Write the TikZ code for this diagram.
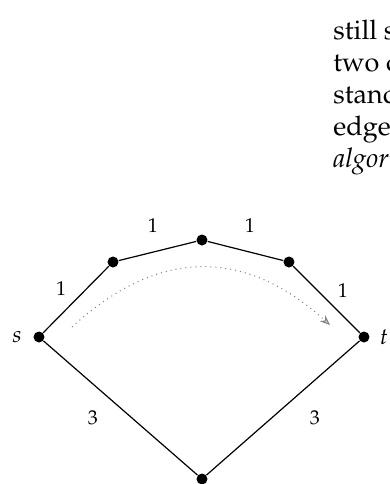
\documentclass[tikz,border=0pt]{standalone}
\usepackage[T1]{fontenc}
\usepackage{mathpazo}
\usetikzlibrary{arrows.meta,positioning}

\begin{document}
\begin{tikzpicture}[x=0.5pt, y=-0.5pt,
    vtx/.style={circle, fill=black, inner sep=0pt, minimum size=5.5pt},
    edge/.style={line width=0.6pt},
    wt/.style={font=\fontsize{10}{12}\selectfont, inner sep=1pt},
    term/.style={font=\fontsize{11.5}{13}\selectfont\itshape, inner sep=1pt},
    prose/.style={font=\fontsize{13.5}{16}\selectfont, anchor=base west, inner sep=0pt},
    path/.style={dotted, gray, line width=0.5pt, -{Stealth[length=5pt, width=4pt, fill=gray!40]}}
  ]
  \clip (0,0) rectangle (390,484);
  \fill[white] (0,0) rectangle (390,484);

  % running text of the page
  \node[prose] (l1) at (333,39)  {still s};
  \node[prose] (l2) at (333,71)  {two c};
  \node[prose] (l3) at (333,103) {stand};
  \node[prose] (l4) at (333,135) {edges};
  \node[prose, font=\fontsize{13.5}{16}\selectfont\itshape] (l5) at (333,167) {algori};

  % graph
  \node[vtx] (s)   at (39,337)  {};
  \node[vtx] (a)   at (113,262) {};
  \node[vtx] (m)   at (202,240) {};
  \node[vtx] (b)   at (289,262) {};
  \node[vtx] (t)   at (364,337) {};
  \node[vtx] (bot) at (202,479) {};
  \node[term] (sl) at (17,337)  {s};
  \node[term] (tl) at (384,337) {t};

  \draw[edge] (s) -- (a) -- (m) -- (b) -- (t);
  \draw[edge] (s) -- (bot) -- (t);

  \node[wt] (w1) at (61,289)  {1};
  \node[wt] (w2) at (153,226) {1};
  \node[wt] (w3) at (250,226) {1};
  \node[wt] (w4) at (343,291) {1};
  \node[wt] (w5) at (93,418)  {3};
  \node[wt] (w6) at (315,418) {3};

  % shortest path
  \coordinate (p0) at (72,327);
  \coordinate (p1) at (330,325);
  \draw[path] (p0) .. controls (158,248) and (244,247) .. (p1);
\end{tikzpicture}
\end{document}
